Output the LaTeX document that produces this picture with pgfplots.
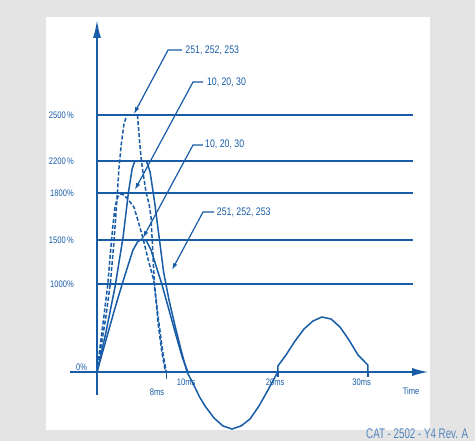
\documentclass[border=0pt]{standalone}
\usepackage{pgfplots}
\pgfplotsset{compat=1.18}
\usepackage{graphicx}
\usepackage{fontspec}
\setmainfont{Liberation Sans}
\usetikzlibrary{arrows.meta}
\definecolor{bl}{RGB}{24,92,168}
\definecolor{bggray}{RGB}{228,228,228}
\newcommand{\cond}[1]{\scalebox{0.8}[1]{#1}}
\newcommand{\lab}{\fontsize{9.5}{10}\selectfont}
\newcommand{\ann}{\fontsize{11}{12}\selectfont}
\begin{document}
\begin{tikzpicture}
\useasboundingbox (0,0) rectangle (475bp,441bp);
\clip (0,0) rectangle (475bp,441bp);
\fill[bggray] (0,0) rectangle (475bp,441bp);
\fill[white] (46bp,11bp) rectangle (430bp,424bp);
\node[anchor=base west, text=bl!75!white, inner sep=0pt, font=\fontsize{14}{14}\selectfont] at (366bp,2.5bp) {\scalebox{0.7}[1]{CAT - 2502 - Y4 Rev. A}};
\begin{axis}[
  at={(70bp,9bp)}, anchor=south west,
  scale only axis, width=360bp, height=415bp,
  xmin=-3, xmax=37, ymin=-60, ymax=355,
  clip=false,
  axis line style={draw=none},
  xtick=\empty,
  ytick={88,132,179,211,257},
  yticklabels={\cond{1000\%},\cond{1500\,\%},\cond{1800\%},\cond{2200\,\%},\cond{2500\,\%}},
  major tick length=0pt,
  yticklabel style={anchor=east, inner sep=0pt, xshift=4bp, text=bl, font=\lab},
]
% grid lines
\addplot[bl, line width=1.3bp] coordinates {(0,88) (35.1,88)};
\addplot[bl, line width=1.3bp] coordinates {(0,132) (35.1,132)};
\addplot[bl, line width=1.3bp] coordinates {(0,179) (35.1,179)};
\addplot[bl, line width=1.3bp] coordinates {(0,211) (35.1,211)};
\addplot[bl, line width=1.3bp] coordinates {(0,257) (35.1,257)};
% axes
\draw[bl, line width=1.6bp, -{Latex[length=18bp,width=8bp]}] (axis cs:0,-23) -- (axis cs:0,352);
\draw[bl, line width=1.6bp, -{Latex[length=16bp,width=8bp]}] (axis cs:-3,0) -- (axis cs:36.8,0);
% curve A dashed 2500
\addplot[bl, line width=1.5bp, dash pattern=on 4bp off 2bp] coordinates {
(0,0) (0.5,28) (1.0,56) (1.5,90) (1.9,132) (2.2,170) (2.45,205) (2.7,228) (3.0,248) (3.3,257)
(4.5,257) (4.7,234) (4.9,214) (5.1,200) (5.45,180) (5.8,167) (6.0,155) (6.2,120) (6.35,92)
(6.8,48) (7.2,20) (7.6,0)};
% curve B dashed 1800
\addplot[bl, line width=1.5bp, dash pattern=on 4bp off 2bp] coordinates {
(0,0) (0.4,30) (0.8,58) (1.2,88) (1.5,120) (1.75,145) (2.0,165) (2.3,175) (2.6,178) (3.0,177)
(3.5,172) (4.1,165) (4.6,150) (5.1,134) (5.7,112) (6.3,92) (6.8,55) (7.3,20) (7.7,0)};
% curve C solid 2200 + sine tail
\addplot[bl, line width=1.5bp] coordinates {
(0,0) (1,40) (2,85) (2.9,135) (3.5,180) (3.9,203) (4.2,211) (5.5,211) (5.9,200) (6.4,170)
(6.9,135) (7.4,100) (8.0,72) (8.7,45) (9.4,20) (10,0)
(10.7,-12) (11.4,-25) (12,-34) (13,-46) (14,-54) (15,-57) (16,-54) (17,-47) (18,-34)
(19,-18) (19.9,-3) (20.1,0) (20.1,6) (21,17) (22,31) (23,43) (24,51) (25,55) (26,53)
(27,45) (28,32) (29,17) (30.1,7) (30.1,0)};
% curve D solid 1500
\addplot[bl, line width=1.5bp] coordinates {
(0,0) (1,32) (2,64) (2.8,88) (3.5,108) (4.0,122) (4.5,130) (5.0,133) (5.5,131) (6.0,122)
(6.6,105) (7.2,88) (8.0,62) (8.8,36) (9.5,14) (10.1,0)};
% small ticks
\draw[bl, line width=1.2bp] (axis cs:7.7,0) -- (axis cs:7.7,-7);
\draw[bl, line width=1.2bp] (axis cs:20.1,0) -- (axis cs:20.1,-5);
\draw[bl, line width=1.2bp] (axis cs:30.1,0) -- (axis cs:30.1,-5);
% annotations
\draw[bl, line width=1.2bp, -{Latex[length=7bp,width=4.5bp]}] (axis cs:9.44,322) -- (axis cs:7.9,322) -- (axis cs:4.1,258);
\node[anchor=west, inner sep=0pt, text=bl, font=\ann] at (axis cs:9.8,322) {\cond{251, 252, 253}};
\draw[bl, line width=1.2bp, -{Latex[length=7bp,width=4.5bp]}] (axis cs:11.8,290) -- (axis cs:10.67,290) -- (axis cs:4.2,182);
\node[anchor=west, inner sep=0pt, text=bl, font=\ann] at (axis cs:12.2,290) {\cond{10, 20, 30}};
\draw[bl, line width=1.2bp, -{Latex[length=7bp,width=4.5bp]}] (axis cs:11.8,227) -- (axis cs:10.67,227) -- (axis cs:5.1,134);
\node[anchor=west, inner sep=0pt, text=bl, font=\ann] at (axis cs:12.0,228) {\cond{10, 20, 30}};
\draw[bl, line width=1.2bp, -{Latex[length=7bp,width=4.5bp]}] (axis cs:13.0,160) -- (axis cs:11.78,160) -- (axis cs:8.33,102);
\node[anchor=west, inner sep=0pt, text=bl, font=\ann] at (axis cs:13.3,160) {\cond{251, 252, 253}};
% tick labels
\node[text=bl, font=\lab, inner sep=0pt] at (axis cs:-1.7,5) {\cond{0\%}};
\node[text=bl, font=\lab, inner sep=0pt] at (axis cs:6.67,-20) {\cond{8ms}};
\node[text=bl, font=\lab, inner sep=0pt] at (axis cs:9.9,-10) {\cond{10ms}};
\node[text=bl, font=\lab, inner sep=0pt] at (axis cs:19.8,-10) {\cond{20ms}};
\node[text=bl, font=\lab, inner sep=0pt] at (axis cs:29.4,-10) {\cond{30ms}};
\node[text=bl, font=\lab, inner sep=0pt] at (axis cs:34.9,-19) {\cond{Time}};
\end{axis}
\end{tikzpicture}
\end{document}
